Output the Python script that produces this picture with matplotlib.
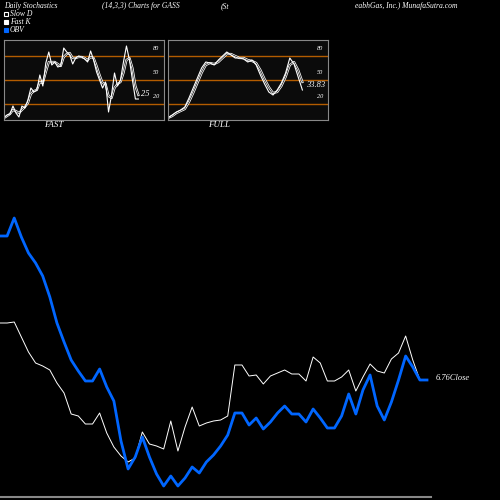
import matplotlib
matplotlib.use("Agg")
import matplotlib.pyplot as plt
import numpy as np

price = [323,323,322,337,352,363,366,370,383,393,414,416,424,424,413,433,447,456,462,458,432,444,446,449,421,451,427,407,426,423,421,420,416,365,365,376,375,384,376,373,370,374,374,381,357,363,381,381,377,370,391,377,364,371,373,359,353,336,360,380,380]
obv = [236,236,218,237,253,263,276,297,323,342,360,371,381,381,369,387,401,441,469,457,437,457,474,486,476,486,478,467,473,462,455,446,435,413,413,425,418,429,422,413,406,414,414,422,409,418,428,428,416,394,414,390,375,406,420,402,380,356,367,380,380]

fast_k_px = [118,115,114,106,113,117,106,108,100,88,92,90,75,86,63,52,65,62,67,66,48,52,55,64,58,56,57,59,62,51,60,72,80,88,82,112,95,73,86,80,62,46,60,80,99,99]
slow_d_px = [118,116,114,110,111,113,110,107,103,94,91,90,82,83,72,62,62,62,64,66,57,54,53,58,58,57,57,58,60,57,58,66,75,83,84,96,98,88,84,82,73,60,58,68,86,95]
full_k_px = [118,115,112,110,107,98,88,78,68,62,63,65,60,56,52,55,58,58,59,62,60,65,75,84,92,95,90,83,73,58,64,77,90]
full_d_px = [118,116,113,111,109,102,93,83,73,65,63,64,62,58,54,54,56,58,58,60,61,63,70,79,87,93,92,86,77,65,62,70,82]

def val(px):
    return [(120 - p) / 0.8 for p in px]

fig = plt.figure(figsize=(5, 5), dpi=100, facecolor="black")
W = H = 500.0

def ax_px(x0, y0, x1, y1):
    return fig.add_axes([x0 / W, 1 - y1 / H, (x1 - x0) / W, (y1 - y0) / H])

serif = dict(family="Liberation Serif", style="italic", color="white", fontsize=5.5)
fig.text(4 / W, 1 - 6 / H, "Daily Stochastics", va="center", **serif)
fig.text(102 / W, 1 - 6 / H, "(14,3,3) Charts for GASS", va="center", **serif)
fig.text(221 / W, 1 - 6 / H, "(St", va="center", **serif)
fig.text(355 / W, 1 - 6 / H, "eabhGas, Inc.) MunafaSutra.com", va="center", **serif)
for i, (lab, fc, ec) in enumerate([("Slow D", "black", "white"), ("Fast K", "white", "white"), ("OBV", "#0066ff", "#0066ff")]):
    y = 14 + i * 8
    fig.patches.append(plt.Rectangle((4 / W, 1 - (y + 2) / H), 4 / W, 4 / H, transform=fig.transFigure, facecolor=fc, edgecolor=ec, lw=0.8))
    fig.text(10 / W, 1 - y / H, lab, va="center", **serif)

def panel(x0, x1, k, d, label, last):
    ax = ax_px(x0, 40, x1, 120)
    ax.set_facecolor("#0b0b0b")
    for s in ax.spines.values():
        s.set_color("#888888")
    ax.set_xticks([]); ax.set_yticks([])
    ax.set_ylim(0, 100)
    n = len(k)
    ax.set_xlim(0, (n - 1) / 0.84)
    for lv in (80, 50, 20):
        ax.axhline(lv, color="#b35c00", lw=1)
        ax.text(0.93, lv + 8, str(lv), transform=ax.get_yaxis_transform(), **dict(serif, fontsize=4.5))
    xs = np.arange(n)
    ax.plot(xs, d, color="white", lw=1.6)
    ax.plot(xs, d, color="#0b0b0b", lw=0.5)
    ax.plot(xs, k, color="white", lw=0.8)
    ax.text(n - 1 + 0.8, k[-1] + 4, last, **dict(serif, fontsize=6))
    fig.text((x0 + 40) / W, 1 - 125 / H, label, va="center", **dict(serif, fontsize=6.5))

panel(4, 164, val(fast_k_px), val(slow_d_px), "FAST", "25")
panel(168, 328, val(full_k_px), val(full_d_px), "FULL", "33.83")

ax = ax_px(0, 200, 432, 500)
ax.set_facecolor("black")
ax.axis("off")
ax.set_ylim(500, 200)
ax.set_xlim(0, (len(price) - 1) * 432 / 427)
xs = np.arange(len(price))
ax.plot(xs, price, color="white", lw=0.7)
ax.plot(xs, obv, color="#0066ff", lw=2)
ax.plot([-1, len(price) - 0.5], [497, 497], color="#888888", lw=1.5, clip_on=False)
fig.text(436 / W, 1 - 378 / H, "6.76Close", va="center", **dict(serif, fontsize=6))

fig.savefig("out.png", dpi=100, facecolor="black")
